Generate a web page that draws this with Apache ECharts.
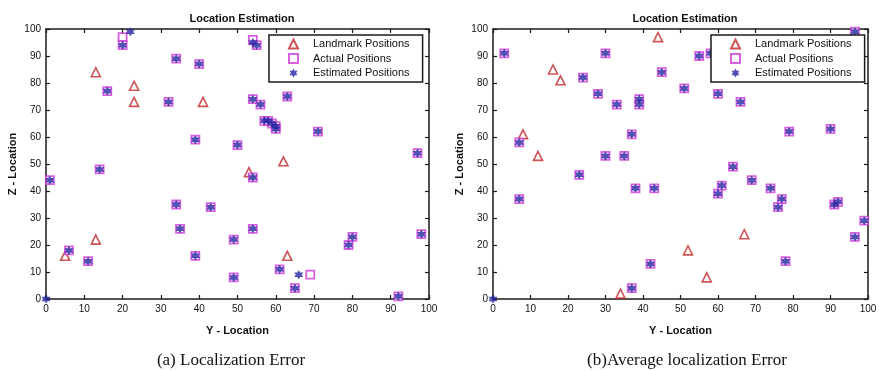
<!DOCTYPE html>
<html>
<head>
<meta charset="utf-8">
<script src="https://cdn.jsdelivr.net/npm/echarts@6/dist/echarts.min.js"></script>
<style>
  html, body { margin: 0; padding: 0; background: #fff; }
  #chart { width: 880px; height: 371px; }
</style>
</head>
<body>
<div id="chart"></div>
<script>
// values, [y-location, z-location]
const leftLandmarks = [[5, 16], [13, 22], [13, 84], [23, 79], [23, 73], [41, 73], [53, 47], [62, 51], [63, 16]];
const leftActual = [
  [1, 44], [6, 18], [11, 14], [14, 48], [16, 77], [20, 97], [20, 94], [32, 73], [34, 89], [34, 35],
  [35, 26], [39, 59], [39, 16], [40, 87], [43, 34], [49, 22], [49, 8], [50, 57], [54, 96], [55, 94],
  [54, 74], [54, 45], [54, 26], [56, 72], [57, 66], [58, 66], [59, 65], [60, 64], [60, 63], [61, 11],
  [63, 75], [65, 4], [69, 9], [71, 62], [79, 20], [80, 23], [92, 1], [97, 54], [98, 24]
];
const leftEstimated = [
  [0, 0], [1, 44], [6, 18], [11, 14], [14, 48], [16, 77], [22, 99], [20, 94], [32, 73], [34, 89], [34, 35],
  [35, 26], [39, 59], [39, 16], [40, 87], [43, 34], [49, 22], [49, 8], [50, 57], [54, 95], [55, 94],
  [54, 74], [54, 45], [54, 26], [56, 72], [57, 66], [58, 66], [59, 65], [60, 64], [60, 63], [61, 11],
  [63, 75], [65, 4], [66, 9], [71, 62], [79, 20], [80, 23], [92, 1], [97, 54], [98, 24]
];

const rightLandmarks = [[16, 85], [18, 81], [8, 61], [12, 53], [44, 97], [34, 2], [52, 18], [57, 8], [67, 24]];
const rightActual = [
  [3, 91], [7, 58], [7, 37], [23, 46], [24, 82], [28, 76], [30, 91], [30, 53], [33, 72], [35, 53],
  [37, 61], [37, 4], [38, 41], [39, 74], [39, 72], [43, 41], [42, 13], [45, 84], [51, 78], [55, 90],
  [58, 91], [60, 76], [60, 39], [61, 42], [64, 49], [66, 73], [69, 44], [74, 41], [76, 34], [77, 37],
  [78, 14], [79, 62], [90, 63], [91, 35], [92, 36], [96.5, 23], [96.5, 99], [99, 29]
];
const rightEstimated = [
  [0, 0], [3, 91], [7, 58], [7, 37], [23, 46], [24, 82], [28, 76], [30, 91], [30, 53], [33, 72], [35, 53],
  [37, 61], [37, 4], [38, 41], [39, 74], [39, 72], [43, 41], [42, 13], [45, 84], [51, 78], [55, 90],
  [58, 91], [60, 76], [60, 39], [61, 42], [64, 49], [66, 73], [69, 44], [74, 41], [76, 34], [77, 37],
  [78, 14], [79, 62], [90, 63], [91, 35], [92, 36], [96.5, 23], [96.5, 99], [99, 29]
];

const seriesNames = ['Landmark Positions', 'Actual Positions', 'Estimated Positions'];
const chartTitle = 'Location Estimation';
const captions = ['(a) Localization Error', '(b)Average localization Error'];

const starPath = 'path://M0,-10 L2.9,-5 L8.7,-5 L5.8,0 L8.7,5 L2.9,5 L0,10 L-2.9,5 L-8.7,5 L-5.8,0 L-8.7,-5 L-2.9,-5 Z';
const axisColor = '#1a1a1a';
const sans = 'Liberation Sans';

const grids = [
  { left: 46, top: 29, width: 383, height: 270 },
  { left: 493, top: 29, width: 375, height: 270 }
];

function valueAxis(gridIndex, position, isX, withLabels, name) {
  const ax = {
    type: 'value',
    gridIndex: gridIndex,
    position: position,
    min: 0,
    max: 100,
    interval: 10,
    axisLine: { show: true, onZero: false, lineStyle: { color: axisColor, width: 1.5 } },
    axisTick: { show: true, inside: true, length: 4, lineStyle: { color: axisColor, width: 1.2 } },
    axisLabel: {
      show: withLabels,
      color: '#111',
      fontFamily: sans,
      fontSize: 10,
      margin: 5
    },
    splitLine: { show: false }
  };
  if (name) {
    ax.name = name;
    ax.nameLocation = 'middle';
    ax.nameGap = isX ? 26 : 28;
    ax.nameTextStyle = { color: '#111', fontFamily: sans, fontSize: 11, fontWeight: 'bold' };
  }
  return ax;
}

const xAxis = [];
const yAxis = [];
[0, 1].forEach(function (g) {
  xAxis.push(valueAxis(g, 'bottom', true, true, 'Y - Location'));
  xAxis.push(valueAxis(g, 'top', true, false));
  yAxis.push(valueAxis(g, 'left', false, true, 'Z - Location'));
  yAxis.push(valueAxis(g, 'right', false, false));
});

function chartSeries(g, landmarks, actual, estimated) {
  const axisIdx = g * 2;
  return [
    {
      name: seriesNames[0],
      type: 'scatter',
      xAxisIndex: axisIdx,
      yAxisIndex: axisIdx,
      symbol: 'triangle',
      symbolSize: 9,
      itemStyle: { color: '#fff', borderColor: '#c0282c', borderWidth: 1.6 },
      data: landmarks
    },
    {
      name: seriesNames[1],
      type: 'scatter',
      xAxisIndex: axisIdx,
      yAxisIndex: axisIdx,
      symbol: 'rect',
      symbolSize: 8,
      itemStyle: { color: '#fff', borderColor: '#cc3ad6', borderWidth: 1.8 },
      data: actual
    },
    {
      name: seriesNames[2],
      type: 'scatter',
      xAxisIndex: axisIdx,
      yAxisIndex: axisIdx,
      symbol: starPath,
      symbolSize: 9,
      itemStyle: { color: '#2424a2' },
      data: estimated
    }
  ];
}

const legendBase = {
  orient: 'vertical',
  top: 35,
  data: seriesNames,
  backgroundColor: '#fff',
  borderColor: axisColor,
  borderWidth: 1.5,
  borderRadius: 0,
  padding: [3, 13, 3, 19],
  itemWidth: 9,
  itemHeight: 9,
  itemGap: 2.5,
  selectedMode: false,
  textStyle: { color: '#111', fontFamily: sans, fontSize: 11, lineHeight: 12, padding: [0, 0, 0, 10] }
};

const chart = echarts.init(document.getElementById('chart'), null, { renderer: 'canvas' });

chart.setOption({
  animation: false,
  backgroundColor: '#fff',
  title: [
    { text: chartTitle, left: 237, top: 8, textAlign: 'center',
      textStyle: { fontFamily: sans, fontSize: 11, fontWeight: 'bold', color: '#111' } },
    { text: chartTitle, left: 680, top: 8, textAlign: 'center',
      textStyle: { fontFamily: sans, fontSize: 11, fontWeight: 'bold', color: '#111' } },
    { text: captions[0], left: 226, top: 347, textAlign: 'center',
      textStyle: { fontFamily: 'Liberation Serif', fontSize: 17, fontWeight: 'normal', color: '#111' } },
    { text: captions[1], left: 682, top: 347, textAlign: 'center',
      textStyle: { fontFamily: 'Liberation Serif', fontSize: 17, fontWeight: 'normal', color: '#111' } }
  ],
  legend: [
    Object.assign({}, legendBase, { left: 269 }),
    Object.assign({}, legendBase, { left: 711 })
  ],
  grid: grids,
  xAxis: xAxis,
  yAxis: yAxis,
  series: chartSeries(0, leftLandmarks, leftActual, leftEstimated)
    .concat(chartSeries(1, rightLandmarks, rightActual, rightEstimated))
});
</script>
</body>
</html>
